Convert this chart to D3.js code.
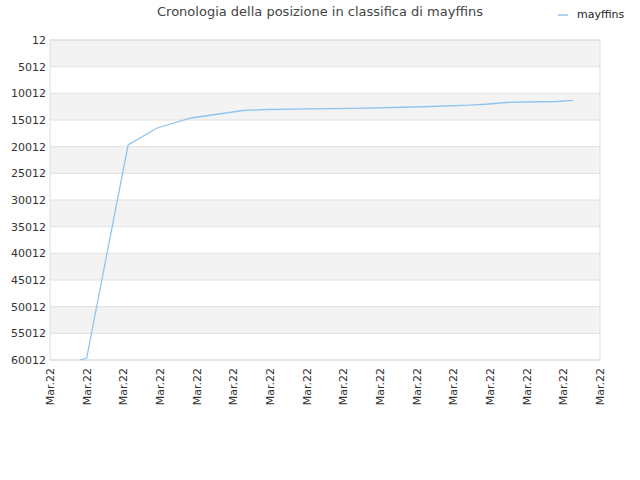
<!DOCTYPE html>
<html><head><meta charset="utf-8">
<script src="https://cdn.jsdelivr.net/npm/d3@7"></script>
<style>body{margin:0;background:#fff;font-family:"DejaVu Sans",sans-serif;}</style>
</head><body>
<script>
var days = [0.82, 1.0, 2.13, 2.92, 3.85, 5.26, 5.92, 7.06, 8.29, 9.35, 10.39, 11.43, 11.97, 12.46, 12.93, 13.83, 14.26];
var ranks = [60012, 59637, 19700, 16512, 14637, 13230, 13040, 12912, 12817, 12670, 12480, 12237, 12012, 11730, 11637, 11540, 11350];
var yTicks = d3.range(12, 60013, 5000);
var xTickLabels = d3.range(16).map(function () { return 'Mar.22'; });

var W = 640, H = 480, m = {l: 50, r: 40, t: 40, b: 120};
var svg = d3.select('body').append('svg').attr('width', W).attr('height', H);
var x = d3.scaleLinear().domain([0, 15]).range([m.l, W - m.r]);
var y = d3.scaleLinear().domain([12, 60012]).range([m.t, H - m.b]);

// alternating bands
for (var i = 0; i < yTicks.length - 1; i++) {
    svg.append('rect').attr('x', x(0)).attr('width', x(15) - x(0))
        .attr('y', y(yTicks[i])).attr('height', y(yTicks[i + 1]) - y(yTicks[i]))
        .attr('fill', i % 2 ? '#fff' : '#f3f3f3');
}
svg.selectAll('.gl').data(yTicks).enter().append('line')
    .attr('x1', x(0)).attr('x2', x(15)).attr('y1', y).attr('y2', y)
    .attr('stroke', '#e0e0e0');
svg.append('rect').attr('x', x(0)).attr('y', y(12)).attr('width', x(15) - x(0))
    .attr('height', y(60012) - y(12)).attr('fill', 'none').attr('stroke', '#ddd');

svg.selectAll('.yl').data(yTicks).enter().append('text')
    .attr('x', x(0) - 4).attr('y', function (d) { return y(d) + 4; })
    .attr('text-anchor', 'end').attr('font-size', 11).attr('fill', '#333').text(function (d) { return d; });

svg.selectAll('.xl').data(xTickLabels).enter().append('text')
    .attr('transform', function (d, i) { return 'translate(' + (x(i) + 4) + ',' + (y(60012) + 8) + ') rotate(-90)'; })
    .attr('text-anchor', 'end').attr('font-size', 11).attr('fill', '#333').text(function (d) { return d; });

var line = d3.line().x(function (d, i) { return x(days[i]); }).y(function (d) { return y(d); });
svg.append('path').datum(ranks).attr('d', line).attr('fill', 'none')
    .attr('stroke', '#90c4f0').attr('stroke-width', 1.3);

svg.append('text').attr('x', 320).attr('y', 16).attr('text-anchor', 'middle')
    .attr('font-size', 13).attr('fill', '#444').text('Cronologia della posizione in classifica di mayffins');
svg.append('line').attr('x1', 558).attr('x2', 568).attr('y1', 15).attr('y2', 15)
    .attr('stroke', '#90c4f0').attr('stroke-width', 1.5);
svg.append('text').attr('x', 577).attr('y', 18).attr('font-size', 11).attr('fill', '#222').text('mayffins');
</script>
</body></html>
